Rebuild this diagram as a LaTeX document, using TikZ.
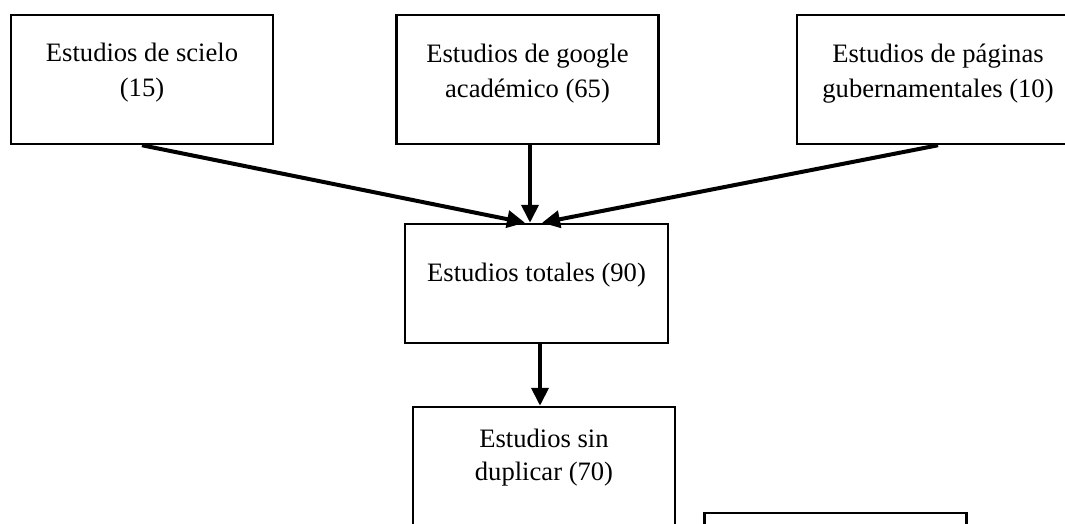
\documentclass[tikz,border=0pt]{standalone}
\usepackage{fontspec}
\setmainfont{Liberation Serif}
\usetikzlibrary{arrows.meta,positioning}

\begin{document}
\begin{tikzpicture}[x=1pt,y=-1pt,
  caja/.style={draw, line width=2.5pt, minimum width=262pt, minimum height=129pt, inner sep=0pt},
  texto/.style={align=center, inner sep=0pt, anchor=north, font=\fontsize{26.6}{35}\selectfont},
  flecha/.style={line width=4pt, -{Triangle[length=18pt,width=17pt]}}]
\useasboundingbox (0,0) rectangle (1065,524);
\clip (0,0) rectangle (1065,524);

% cajas
\node[caja] (scielo) at (142,79.5) {};
\node[caja] (google) at (527.5,79.5) {};
\node[caja, minimum width=282pt] (paginas) at (938,79.5) {};
\node[caja, minimum width=263pt, minimum height=119pt] (totales) at (536.5,283.5) {};
\node[caja] (sinduplicar) at (544,471.5) {};
\node[caja] (extra) at (835.5,577.5) {};

% textos
\node[texto, below=29.5pt of scielo.north] (scielo-t) {Estudios de scielo\\(15)};
\node[texto, below=30pt of google.north] (google-t) {Estudios de google\\académico (65)};
\node[texto, below=30pt of paginas.north] (paginas-t) {Estudios de páginas\\gubernamentales (10)};
\node[texto, below=39.6pt of totales.north] (totales-t) {Estudios totales (90)};
\node[texto, below=23pt of sinduplicar.north, font=\fontsize{26.6}{33}\selectfont] (sinduplicar-t) {Estudios sin\\duplicar (70)};

% flechas
\draw[flecha] (scielo.south) -- ([xshift=-11.5pt]totales.north);
\draw[flecha] ([xshift=2.5pt]google.south) -- ([xshift=2.5pt]google.south |- totales.north);
\draw[flecha] (paginas.south) -- ([xshift=5.5pt]totales.north);
\draw[flecha] ([xshift=3.5pt]totales.south) -- ([xshift=3.5pt]totales.south |- sinduplicar.north);
\end{tikzpicture}
\end{document}
